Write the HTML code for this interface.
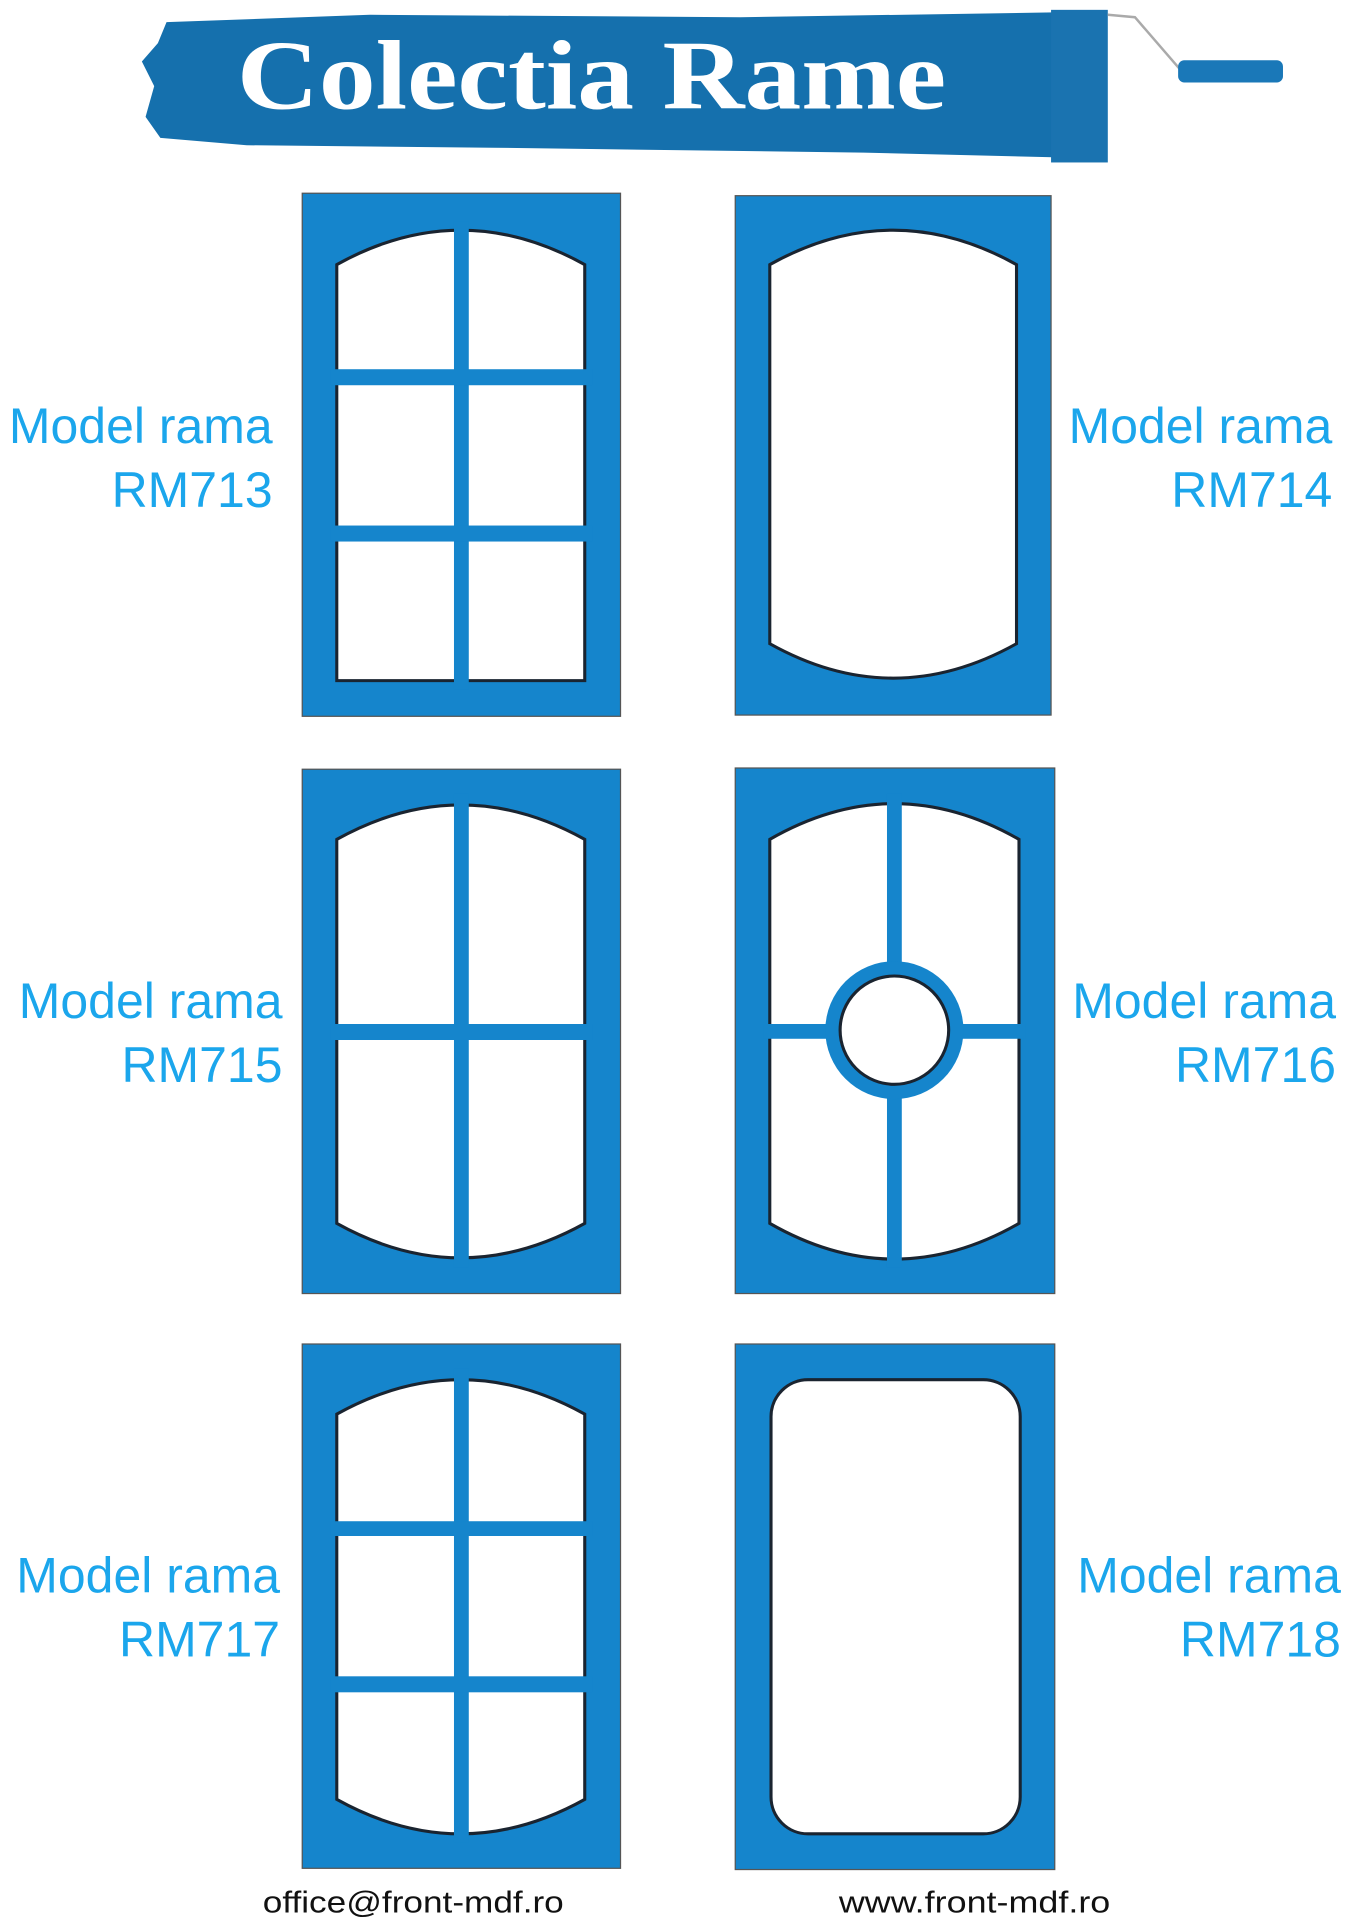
<!DOCTYPE html>
<html><head><meta charset="utf-8"><style>
html,body{margin:0;padding:0;background:#fff;}
svg{display:block;}
</style></head><body>
<svg width="1357" height="1920" viewBox="0 0 1100 1560" preserveAspectRatio="none" xmlns="http://www.w3.org/2000/svg">
<!-- header brush -->
<path d="M135,18 L300,12 L600,14 L860,10 L862,128 L700,124 L400,120 L200,118 L130,112 L118,95 L125,70 L115,50 L128,35 Z" fill="#1570ad"/>
<rect x="852" y="8" width="46" height="124" fill="#1a73b0"/>
<path d="M898,12 L920,14 L958,58" stroke="#aaa" stroke-width="2" fill="none"/>
<rect x="955" y="49" width="85" height="18" rx="5" fill="#1a78b8"/>
<text x="192" y="88" textLength="575" lengthAdjust="spacingAndGlyphs" fill="#fff" font-family="Liberation Serif, serif" font-weight="bold" font-size="80">Colectia Rame</text>

<g fill="#1585cc" stroke="#555" stroke-width="1">
<rect x="245" y="157" width="258" height="425"/>
<rect x="596" y="159" width="256" height="422"/>
<rect x="245" y="625" width="258" height="426"/>
<rect x="596" y="624" width="259" height="427"/>
<rect x="245" y="1092" width="258" height="426"/>
<rect x="596" y="1092" width="259" height="427"/>
</g>
<g fill="#fff" stroke="#1a2430" stroke-width="2.5">
<path d="M273,215 Q373.5,159 474,215 L474,553 L273,553 Z"/>
<path d="M624,215 Q724,159 824,215 L824,523 Q724,579 624,523 Z"/>
<path d="M273,682 Q373.5,626 474,682 L474,994 Q373.5,1050 273,994 Z"/>
<path d="M624,682 Q725,624 826,682 L826,994 Q725,1052 624,994 Z"/>
<path d="M273,1149 Q373.5,1093 474,1149 L474,1462 Q373.5,1518 273,1462 Z"/>
<rect x="625" y="1121" width="202" height="369" rx="30"/>
</g>
<g fill="#1585cc">
<rect x="368" y="180" width="12" height="380"/>
<rect x="268" y="300" width="212" height="13"/>
<rect x="268" y="427" width="212" height="13"/>
<rect x="368" y="645" width="12" height="385"/>
<rect x="268" y="832" width="212" height="13"/>
<rect x="719" y="645" width="12" height="385"/>
<rect x="619" y="832" width="212" height="12"/>
<circle cx="725" cy="837" r="56"/>
<rect x="368" y="1112" width="12" height="385"/>
<rect x="268" y="1236" width="212" height="12"/>
<rect x="268" y="1362" width="212" height="13"/>
</g>
<circle cx="725" cy="837" r="44" fill="#fff" stroke="#1a2430" stroke-width="2.5"/>

<g fill="#1ba6ec" font-family="Liberation Sans, sans-serif" font-size="40.5">
<text x="221" y="360" text-anchor="end">Model rama</text>
<text x="221" y="412" text-anchor="end">RM713</text>
<text x="1080" y="360" text-anchor="end">Model rama</text>
<text x="1080" y="412" text-anchor="end">RM714</text>
<text x="229" y="827" text-anchor="end">Model rama</text>
<text x="229" y="879" text-anchor="end">RM715</text>
<text x="1083" y="827" text-anchor="end">Model rama</text>
<text x="1083" y="879" text-anchor="end">RM716</text>
<text x="227" y="1294" text-anchor="end">Model rama</text>
<text x="227" y="1346" text-anchor="end">RM717</text>
<text x="1087" y="1294" text-anchor="end">Model rama</text>
<text x="1087" y="1346" text-anchor="end">RM718</text>
</g>
<g fill="#111" font-family="Liberation Sans, sans-serif" font-size="25">
<text x="213" y="1554" textLength="244" lengthAdjust="spacingAndGlyphs">office@front-mdf.ro</text>
<text x="680" y="1554" textLength="220" lengthAdjust="spacingAndGlyphs">www.front-mdf.ro</text>
</g>
</svg>
</body></html>
